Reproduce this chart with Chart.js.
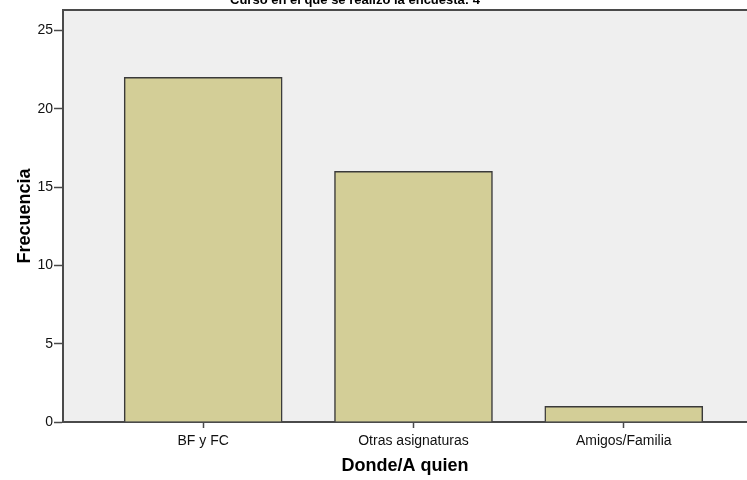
<!DOCTYPE html>
<html>
<head>
<meta charset="utf-8">
<script src="https://cdn.jsdelivr.net/npm/chart.js@4/dist/chart.umd.min.js"></script>
<style>
  html, body { margin: 0; padding: 0; background: #fff; }
  #wrap { width: 747px; height: 480px; position: relative; }
</style>
</head>
<body>
<div id="wrap"><canvas id="chart"></canvas></div>
<script>
// Data
const chartTitle = 'Curso en el que se realizó la encuesta: 4';
const categories = ['BF y FC', 'Otras asignaturas', 'Amigos/Familia'];
const frequencies = [22, 16, 1];
const yTicks = [0, 5, 10, 15, 20, 25];

const axisColor = '#4a4a4a';

// plot background + top border + cropped title
const plotFrame = {
    id: 'plotFrame',
    beforeDraw(chart) {
        const {ctx, chartArea: a} = chart;
        ctx.save();
        ctx.fillStyle = '#efefef';
        ctx.fillRect(a.left, a.top, a.right - a.left, a.bottom - a.top);
        ctx.strokeStyle = axisColor;
        ctx.lineWidth = 2;
        ctx.beginPath();
        ctx.moveTo(a.left, a.top);
        ctx.lineTo(a.right, a.top);
        ctx.stroke();
        ctx.restore();
    },
    afterDraw(chart) {
        const ctx = chart.ctx;
        ctx.save();
        ctx.fillStyle = '#000';
        ctx.font = 'bold 13px "Liberation Sans", Arial, sans-serif';
        ctx.textAlign = 'center';
        ctx.textBaseline = 'alphabetic';
        ctx.fillText(chartTitle, 355, 4);
        ctx.restore();
    }
};

new Chart(document.getElementById('chart'), {
    type: 'bar',
    data: {
        datasets: [{
            label: 'Frecuencia',
            data: frequencies.map((v, i) => ({x: i + 1, y: v})),
            backgroundColor: '#d3ce97',
            borderColor: '#3a3a3a',
            borderWidth: 1.5,
            borderSkipped: 'bottom',
            barThickness: 158
        }]
    },
    options: {
        responsive: true,
        maintainAspectRatio: false,
        animation: false,
        layout: { padding: { top: 10, right: 0, bottom: 0, left: 0 } },
        plugins: { legend: { display: false }, tooltip: { enabled: false } },
        scales: {
            x: {
                type: 'linear',
                offset: false,
                min: 1 / 3,
                max: 3.586,
                afterBuildTicks: s => { s.ticks = categories.map((c, i) => ({value: i + 1})); },
                afterFit: s => { s.height = 58; },
                ticks: {
                    autoSkip: false,
                    maxRotation: 0,
                    padding: 5,
                    color: '#111',
                    font: { family: '"Liberation Sans", Arial, sans-serif', size: 14 },
                    callback: v => categories[v - 1] || ''
                },
                grid: { offset: false, drawOnChartArea: false, drawTicks: true, tickLength: 6, tickWidth: 1.5, tickColor: axisColor },
                border: { color: axisColor, width: 2 },
                title: {
                    display: true,
                    text: 'Donde/A quien',
                    color: '#000',
                    padding: { top: 0, bottom: 3 },
                    font: { family: '"Liberation Sans", Arial, sans-serif', size: 18, weight: 'bold' }
                }
            },
            y: {
                min: 0,
                max: 26.3,
                afterBuildTicks: s => { s.ticks = yTicks.map(v => ({value: v})); },
                afterFit: s => { s.width = 63; },
                ticks: {
                    padding: 1,
                    color: '#111',
                    font: { family: '"Liberation Sans", Arial, sans-serif', size: 14 }
                },
                grid: { drawOnChartArea: false, drawTicks: true, tickLength: 9, tickWidth: 1.5, tickColor: axisColor },
                border: { color: axisColor, width: 2 },
                title: {
                    display: true,
                    text: 'Frecuencia',
                    color: '#000',
                    padding: { top: 14, bottom: 0 },
                    font: { family: '"Liberation Sans", Arial, sans-serif', size: 18, weight: 'bold' }
                }
            }
        }
    },
    plugins: [plotFrame]
});
</script>
</body>
</html>
